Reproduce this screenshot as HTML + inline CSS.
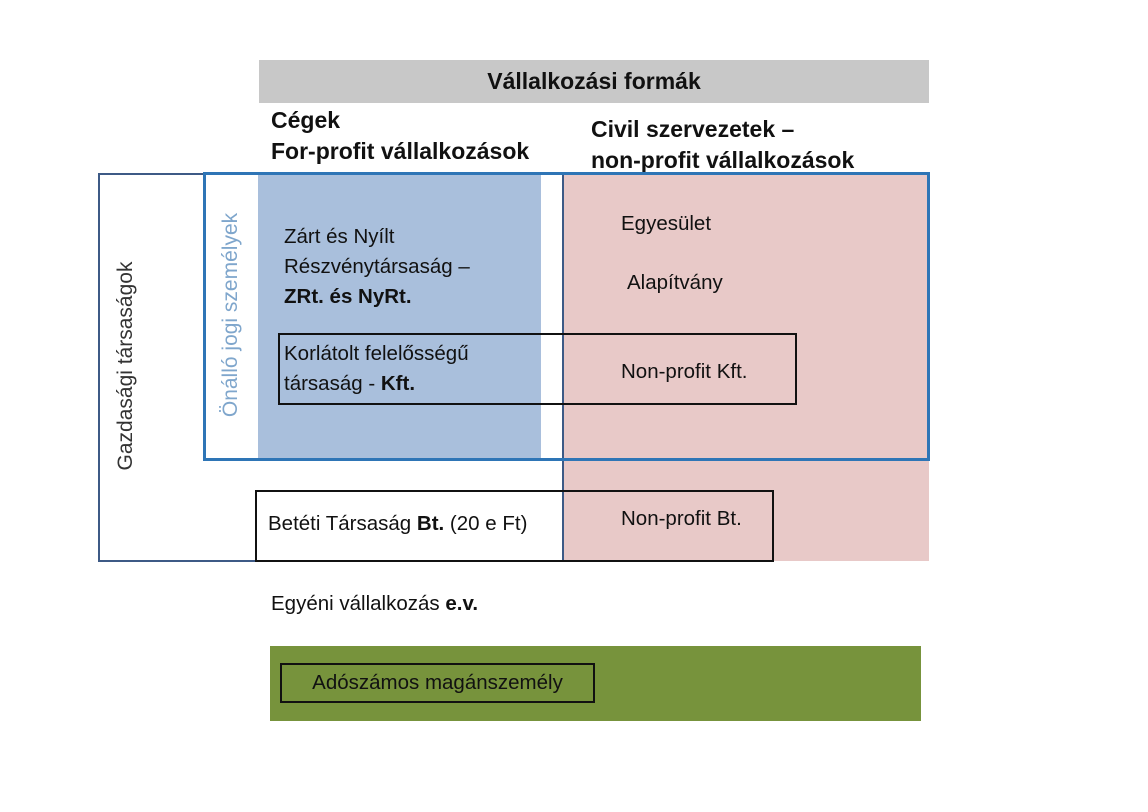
<!DOCTYPE html>
<html><head><meta charset="utf-8"><style>
body{margin:0;width:1148px;height:812px;background:#fff;position:relative;overflow:hidden;font-family:"Liberation Sans",sans-serif;color:#111}
div{position:absolute;box-sizing:border-box}
.t{white-space:nowrap;font-size:20.5px;line-height:26px}
.b{font-weight:bold}
</style></head><body>
<div style="left:259px;top:60px;width:670px;height:43px;background:#c8c8c8"></div>
<div class="t b" style="left:259px;top:68px;width:670px;text-align:center;font-size:23px">Vállalkozási formák</div>
<div class="t b" style="left:271px;top:105px;font-size:23px;line-height:31px">Cégek<br>For-profit vállalkozások</div>
<div class="t b" style="left:591px;top:114px;font-size:23px;line-height:31px">Civil szervezetek –<br>non-profit vállalkozások</div>

<div style="left:258px;top:173px;width:283px;height:286px;background:#a9bfdc"></div>
<div style="left:563px;top:173px;width:366px;height:388px;background:#e8c9c8"></div>
<div style="left:98px;top:173px;width:466px;height:389px;border:2px solid #3d5a86"></div>
<div style="left:203px;top:172px;width:727px;height:289px;border:3px solid #2e75b6"></div>
<div style="left:278px;top:333px;width:519px;height:72px;border:2px solid #111"></div>
<div style="left:255px;top:490px;width:519px;height:72px;border:2px solid #111"></div>

<div class="t" style="left:126px;top:366px;transform:translate(-50%,-50%) rotate(-90deg);font-size:21px;color:#333">Gazdasági társaságok</div>
<div class="t" style="left:231px;top:315px;transform:translate(-50%,-50%) rotate(-90deg);font-size:21px;color:#7fa6cc">Önálló jogi személyek</div>

<div class="t" style="left:284px;top:222px;line-height:30px">Zárt és Nyílt<br>Részvénytársaság –<br><b>ZRt. és NyRt.</b></div>
<div class="t" style="left:284px;top:339px;line-height:30px">Korlátolt felelősségű<br>társaság - <b>Kft.</b></div>
<div class="t" style="left:621px;top:211px">Egyesület</div>
<div class="t" style="left:627px;top:270px">Alapítvány</div>
<div class="t" style="left:621px;top:359px">Non-profit Kft.</div>
<div class="t" style="left:268px;top:511px">Betéti Társaság <b>Bt.</b> (20 e Ft)</div>
<div class="t" style="left:621px;top:506px">Non-profit Bt.</div>
<div class="t" style="left:271px;top:591px">Egyéni vállalkozás <b>e.v.</b></div>

<div style="left:270px;top:646px;width:651px;height:75px;background:#77933c"></div>
<div style="left:280px;top:663px;width:315px;height:40px;border:2px solid #111"></div>
<div class="t" style="left:280px;top:670px;width:315px;text-align:center">Adószámos magánszemély</div>
</body></html>
